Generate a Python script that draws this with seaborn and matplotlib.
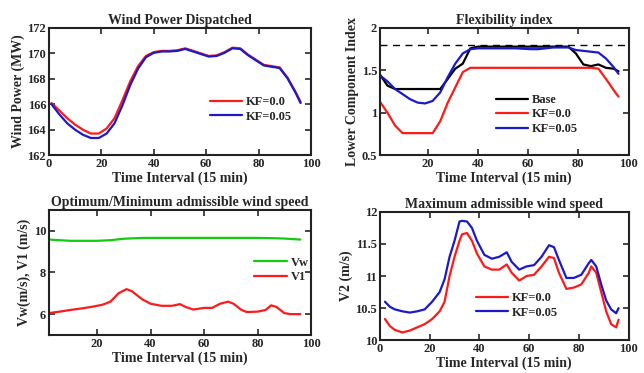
import numpy as np
import pandas as pd
import matplotlib
matplotlib.use('Agg')
import matplotlib.pyplot as plt
import seaborn as sns

# --- wind power dispatched ---
t_wp = [1, 4, 7, 10, 13, 16, 19, 22, 25, 28, 31, 34, 37, 40, 43, 46, 49, 52, 55, 58,
        61, 64, 67, 70, 73, 76, 79, 82, 85, 88, 91, 94, 96]
wp_kf0 = [166.1, 165.5, 164.9, 164.4, 164.0, 163.7, 163.7, 164.1, 164.9, 166.3, 167.8,
          169.0, 169.8, 170.1, 170.2, 170.2, 170.25, 170.4, 170.2, 170.0, 169.8, 169.85,
          170.1, 170.45, 170.4, 169.9, 169.5, 169.1, 169.0, 168.9, 168.1, 167.0, 166.2]
wp_kf005 = [166.0, 165.2, 164.5, 164.0, 163.6, 163.35, 163.35, 163.7, 164.5, 165.9, 167.5,
            168.8, 169.7, 170.05, 170.15, 170.15, 170.2, 170.35, 170.15, 169.95, 169.75,
            169.8, 170.05, 170.4, 170.35, 169.85, 169.45, 169.05, 168.95, 168.85, 168.05,
            166.95, 166.1]

# --- flexibility index ---
t_fi = [1, 4, 7, 10, 13, 16, 19, 22, 25, 28, 31, 34, 37, 40, 43, 46, 49, 52, 55, 58,
        61, 64, 67, 70, 73, 76, 79, 82, 85, 88, 91, 94, 96]
fi_base = [1.45, 1.32, 1.28, 1.28, 1.28, 1.28, 1.28, 1.28, 1.28, 1.40, 1.52, 1.58, 1.76,
           1.78, 1.78, 1.78, 1.78, 1.78, 1.78, 1.78, 1.78, 1.78, 1.78, 1.78, 1.78, 1.78,
           1.70, 1.57, 1.55, 1.57, 1.53, 1.52, 1.49]
fi_kf0 = [1.13, 1.0, 0.85, 0.76, 0.76, 0.76, 0.76, 0.76, 0.90, 1.12, 1.30, 1.48, 1.53,
          1.53, 1.53, 1.53, 1.53, 1.53, 1.53, 1.53, 1.53, 1.53, 1.53, 1.53, 1.53, 1.53,
          1.53, 1.53, 1.53, 1.52, 1.40, 1.27, 1.19]
fi_kf005 = [1.44, 1.37, 1.28, 1.22, 1.16, 1.12, 1.11, 1.14, 1.24, 1.42, 1.58, 1.70, 1.75,
            1.76, 1.76, 1.76, 1.76, 1.76, 1.76, 1.755, 1.75, 1.75, 1.76, 1.77, 1.77, 1.77,
            1.74, 1.73, 1.72, 1.71, 1.64, 1.54, 1.46]
fi_limit = 1.8

# --- optimum / minimum wind speed ---
t_vw = [2, 6, 10, 15, 20, 25, 30, 37, 45, 55, 65, 75, 80, 85, 90, 96]
vw = [9.58, 9.55, 9.52, 9.52, 9.52, 9.55, 9.62, 9.66, 9.66, 9.66, 9.66, 9.66, 9.66,
      9.65, 9.63, 9.58]
t_v1 = [2, 6, 10, 14, 18, 22, 25, 28, 31, 33, 35, 37, 40, 44, 48, 51, 53, 56, 60, 63,
        66, 69, 71, 74, 76, 80, 83, 85, 87, 90, 92, 96]
v1 = [6.05, 6.12, 6.2, 6.27, 6.35, 6.45, 6.6, 7.0, 7.2, 7.1, 6.9, 6.7, 6.5, 6.4, 6.4,
      6.48, 6.35, 6.22, 6.3, 6.3, 6.5, 6.6, 6.5, 6.2, 6.1, 6.12, 6.2, 6.42, 6.35, 6.05,
      6.0, 6.0]

# --- maximum wind speed ---
t_v2 = [2, 4, 6, 9, 12, 15, 18, 21, 24, 26, 28, 30, 32, 33, 35, 37, 39, 42, 45, 48,
        51, 53, 56, 59, 62, 65, 68, 70, 72, 75, 78, 81, 84, 85, 87, 89, 91, 93, 95, 96]
v2_kf0 = [10.33, 10.22, 10.16, 10.12, 10.15, 10.2, 10.25, 10.33, 10.45, 10.6, 11.0,
          11.3, 11.55, 11.65, 11.67, 11.55, 11.35, 11.15, 11.1, 11.1, 11.18, 11.05,
          10.93, 11.0, 11.02, 11.15, 11.3, 11.28, 11.05, 10.8, 10.82, 10.87, 11.05,
          11.15, 11.05, 10.75, 10.45, 10.25, 10.2, 10.32]
v2_kf005 = [10.6, 10.52, 10.48, 10.45, 10.43, 10.45, 10.48, 10.6, 10.75, 10.95, 11.3,
            11.55, 11.85, 11.86, 11.85, 11.75, 11.55, 11.33, 11.27, 11.3, 11.37, 11.22,
            11.1, 11.15, 11.17, 11.3, 11.48, 11.45, 11.25, 10.97, 10.97, 11.02, 11.2,
            11.25, 11.15, 10.87, 10.62, 10.48, 10.42, 10.5]

sns.set_theme(style='ticks')
plt.rcParams['font.family'] = ['Liberation Serif', 'DejaVu Serif']
plt.rcParams['font.weight'] = 'bold'
plt.rcParams['axes.labelweight'] = 'bold'
plt.rcParams['axes.titleweight'] = 'bold'
plt.rcParams['xtick.direction'] = 'in'
plt.rcParams['ytick.direction'] = 'in'
plt.rcParams['xtick.top'] = True
plt.rcParams['ytick.right'] = True
plt.rcParams['axes.linewidth'] = 1.5
plt.rcParams['xtick.major.width'] = 1.2
plt.rcParams['ytick.major.width'] = 1.2
plt.rcParams['xtick.major.size'] = 4
plt.rcParams['ytick.major.size'] = 4
plt.rcParams['axes.edgecolor'] = '#222222'

fig = plt.figure(figsize=(6.44, 3.73), dpi=100)
ax1 = fig.add_axes([0.076, 0.584, 0.407, 0.341])
ax2 = fig.add_axes([0.590, 0.584, 0.386, 0.341])
ax3 = fig.add_axes([0.076, 0.102, 0.407, 0.335])
ax4 = fig.add_axes([0.590, 0.088, 0.386, 0.344])

lw = 1.6
red = '#ff1a1a'
blue = '#1a1acc'

sns.lineplot(x=t_wp, y=wp_kf0, ax=ax1, color=red, lw=lw, label='KF=0.0')
sns.lineplot(x=t_wp, y=wp_kf005, ax=ax1, color=blue, lw=lw, label='KF=0.05')
ax1.set_xlim(0, 100)
ax1.set_ylim(162, 172)
ax1.set_xticks([0, 20, 40, 60, 80, 100])
ax1.set_yticks([162, 164, 166, 168, 170, 172])
ax1.set_title('Wind Power Dispatched', fontsize=10, pad=3)
ax1.set_ylabel('Wind Power (MW)', fontsize=10, labelpad=2)
ax1.legend(loc='center left', bbox_to_anchor=(0.57, 0.36), frameon=False,
           fontsize=9, handlelength=2.6, handletextpad=0.3, labelspacing=0.2)

sns.lineplot(x=t_fi, y=fi_base, ax=ax2, color='black', lw=lw, label='Base')
sns.lineplot(x=t_fi, y=fi_kf0, ax=ax2, color=red, lw=lw, label='KF=0.0')
sns.lineplot(x=t_fi, y=fi_kf005, ax=ax2, color=blue, lw=lw, label='KF=0.05')
ax2.axhline(fi_limit, color='black', lw=1.0, ls=(0, (5, 4)))
ax2.set_xlim(1, 100)
ax2.set_ylim(0.5, 2)
ax2.set_xticks([20, 40, 60, 80, 100])
ax2.set_yticks([0.5, 1, 1.5, 2])
ax2.set_yticklabels(['0.5', '1', '1.5', '2'])
ax2.set_title('Flexibility index', fontsize=10, pad=3)
ax2.set_ylabel('Lower Component Index', fontsize=10, labelpad=2)
ax2.legend(loc='center left', bbox_to_anchor=(0.42, 0.32), frameon=False,
           fontsize=9, handlelength=2.6, handletextpad=0.3, labelspacing=0.2)

sns.lineplot(x=t_vw, y=vw, ax=ax3, color='#11cc11', lw=lw, label='Vw')
sns.lineplot(x=t_v1, y=v1, ax=ax3, color=red, lw=lw, label='V1')
ax3.set_xlim(2, 100)
ax3.set_ylim(5, 11)
ax3.set_xticks([20, 40, 60, 80, 100])
ax3.set_yticks([6, 8, 10])
ax3.set_title('Optimum/Minimum admissible wind speed', fontsize=10, pad=3)
ax3.set_ylabel('Vw(m/s), V1 (m/s)', fontsize=10, labelpad=2)
ax3.legend(loc='center left', bbox_to_anchor=(0.74, 0.52), frameon=False,
           fontsize=9, handlelength=2.6, handletextpad=0.3, labelspacing=0.2)

sns.lineplot(x=t_v2, y=v2_kf0, ax=ax4, color=red, lw=lw, label='KF=0.0')
sns.lineplot(x=t_v2, y=v2_kf005, ax=ax4, color=blue, lw=lw, label='KF=0.05')
ax4.set_xlim(0, 100)
ax4.set_ylim(10, 12)
ax4.set_xticks([0, 20, 40, 60, 80, 100])
ax4.set_yticks([10, 10.5, 11, 11.5, 12])
ax4.set_yticklabels(['10', '10.5', '11', '11.5', '12'])
ax4.set_title('Maximum admissible wind speed', fontsize=10, pad=3)
ax4.set_ylabel('V2 (m/s)', fontsize=10, labelpad=2)
ax4.legend(loc='center left', bbox_to_anchor=(0.34, 0.27), frameon=False,
           fontsize=9, handlelength=2.6, handletextpad=0.3, labelspacing=0.2)

for ax in (ax1, ax2, ax3, ax4):
    ax.set_xlabel('Time Interval (15 min)', fontsize=10, labelpad=1)
    ax.tick_params(labelsize=9, pad=2)
    for s in ax.spines.values():
        s.set_visible(True)

fig.savefig('out.png', dpi=100)
